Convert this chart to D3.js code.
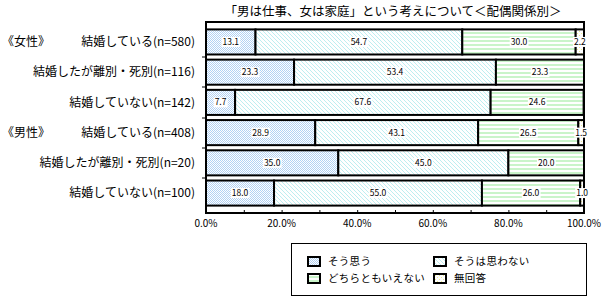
<!DOCTYPE html>
<html><head><meta charset="utf-8">
<script src="https://cdn.jsdelivr.net/npm/d3@7"></script>
<style>
body{margin:0;background:#fff;}
svg{display:block;}
text{font-family:"Noto Sans CJK JP","Noto Sans",sans-serif;fill:#000;}
</style></head>
<body><svg id="c" width="605" height="300"></svg>
<script>
const title = "「男は仕事、女は家庭」という考えについて＜配偶関係別＞";
const categories = ["結婚している(n=580)", "結婚したが離別・死別(n=116)", "結婚していない(n=142)",
                    "結婚している(n=408)", "結婚したが離別・死別(n=20)", "結婚していない(n=100)"];
const groups = ["《女性》", "", "", "《男性》", "", ""];
const seriesNames = ["そう思う", "そうは思わない", "どちらともいえない", "無回答"];
const agree    = [13.1, 23.3, 7.7, 28.9, 35.0, 18.0];
const disagree = [54.7, 53.4, 67.6, 43.1, 45.0, 55.0];
const neutral  = [30.0, 23.3, 24.6, 26.5, 20.0, 26.0];
const noAnswer = [2.2, 0, 0, 1.5, 0, 1.0];
const xTicks = [0, 20, 40, 60, 80, 100];

const svg = d3.select("#c");
const defs = svg.append("defs");
const p1 = defs.append("pattern").attr("id","pAgree").attr("width",2).attr("height",2).attr("patternUnits","userSpaceOnUse");
p1.append("rect").attr("width",2).attr("height",2).attr("fill","#fff");
p1.append("rect").attr("width",1).attr("height",1).attr("fill","#b2d2f4");
p1.append("rect").attr("x",1).attr("y",1).attr("width",1).attr("height",1).attr("fill","#b2d2f4");
const p2 = defs.append("pattern").attr("id","pDis").attr("width",4).attr("height",4).attr("patternUnits","userSpaceOnUse");
p2.append("rect").attr("width",4).attr("height",4).attr("fill","#fff");
[[0,0],[1,1],[2,2],[3,3]].forEach(([x,y])=>p2.append("rect").attr("x",x).attr("y",y).attr("width",1).attr("height",1).attr("fill","#bdeef0"));
const p3 = defs.append("pattern").attr("id","pNeu").attr("width",4).attr("height",4).attr("patternUnits","userSpaceOnUse");
p3.append("rect").attr("width",4).attr("height",4).attr("fill","#fff");
p3.append("rect").attr("width",4).attr("height",2).attr("fill","#caf4ca");
const p4 = defs.append("pattern").attr("id","pNA").attr("width",4).attr("height",4).attr("patternUnits","userSpaceOnUse");
p4.append("rect").attr("width",4).attr("height",4).attr("fill","#fff");
p4.append("rect").attr("x",1).attr("y",1).attr("width",1).attr("height",1).attr("fill","#ecec90");
p4.append("rect").attr("x",3).attr("y",3).attr("width",1).attr("height",1).attr("fill","#ecec90");
const fills = ["url(#pAgree)","url(#pDis)","url(#pNeu)","url(#pNA)"];

const x0 = 206, x1 = 584, y0 = 22, y1 = 213;
const x = d3.scaleLinear().domain([0,100]).range([x0,x1]);
const y = d3.scaleBand().domain(categories).range([y0,y1]).paddingInner(0.17).paddingOuter(0.245);

svg.append("text").attr("x",393).attr("y",16).attr("text-anchor","middle").attr("font-size",12.5).text(title);

const seriesVals = [agree, disagree, neutral, noAnswer];
const rows = categories.map((c,i)=>{
  let acc = 0;
  return seriesVals.map((s,k)=>{const seg={cat:c,k,v:s[i],start:acc}; acc+=s[i]; return seg;}).filter(d=>d.v>0);
});

const g = svg.append("g");
rows.forEach(segs=>{
  g.selectAll(null).data(segs).enter().append("rect")
    .attr("x",d=>x(d.start)).attr("y",d=>y(d.cat))
    .attr("width",d=>x(d.start+d.v)-x(d.start)).attr("height",y.bandwidth())
    .attr("fill",d=>fills[d.k]).attr("stroke","#000").attr("stroke-width",2);
});
svg.append("rect").attr("x",x0).attr("y",y0).attr("width",x1-x0).attr("height",y1-y0)
  .attr("fill","none").attr("stroke","#000").attr("stroke-width",2);

rows.forEach(segs=>{
  segs.forEach(d=>{
    const cx = x(d.start + d.v/2), cy = y(d.cat)+y.bandwidth()/2;
    const t = svg.append("text").attr("x",cx).attr("y",cy+3).attr("text-anchor","middle")
      .attr("font-family","Liberation Sans, Arial, sans-serif").attr("font-size",8.5).text(d.v.toFixed(1));
    const bb = t.node().getBBox();
    svg.insert("rect", () => t.node()).attr("x",bb.x-1).attr("y",cy-5).attr("width",bb.width+2).attr("height",10).attr("fill","#fff");
  });
});

const step = y.step();
categories.slice(1).forEach(c=>{
  const ty = Math.round(y(c) - step*0.17/2);
  svg.append("line").attr("x1",x0-4).attr("x2",x0).attr("y1",ty).attr("y2",ty).attr("stroke","#000");
});
svg.selectAll(null).data(categories).enter().append("text")
  .attr("x",195).attr("y",d=>y(d)+y.bandwidth()/2).attr("dy","0.35em")
  .attr("text-anchor","end").attr("font-size",12).text(d=>d);
svg.selectAll(null).data(categories.filter((c,i)=>groups[i])).enter().append("text")
  .attr("x",2).attr("y",d=>y(d)+y.bandwidth()/2).attr("dy","0.35em")
  .attr("font-size",12).text(d=>groups[categories.indexOf(d)]);

const xa = d3.axisBottom(x).tickValues(d3.range(0,101,10)).tickSize(-3).tickFormat("");
const ax = svg.append("g").attr("transform",`translate(0,${y1})`).call(xa);
ax.select(".domain").remove();
ax.selectAll("line").attr("stroke","#000");
svg.selectAll(null).data(xTicks).enter().append("text")
  .attr("x",d=>x(d)).attr("y",227).attr("text-anchor","middle")
  .attr("font-family","Liberation Sans, Arial, sans-serif").attr("font-size",10).text(d=>d.toFixed(1)+"%");

svg.append("rect").attr("x",291.5).attr("y",243.5).attr("width",295).attr("height",52).attr("fill","#fff").attr("stroke","#000");
const lpos = [[307,256],[433,256],[307,273],[433,273]];
seriesNames.forEach((n,k)=>{
  const [lx,ly] = lpos[k];
  svg.append("rect").attr("x",lx+1).attr("y",ly+1).attr("width",12).attr("height",9).attr("fill",fills[k]).attr("stroke","#000").attr("stroke-width",2);
  svg.append("text").attr("x",lx+21).attr("y",ly+5.5).attr("dy","0.35em").attr("font-size",10.5).attr("letter-spacing",0.3).text(n);
});
</script></body></html>
